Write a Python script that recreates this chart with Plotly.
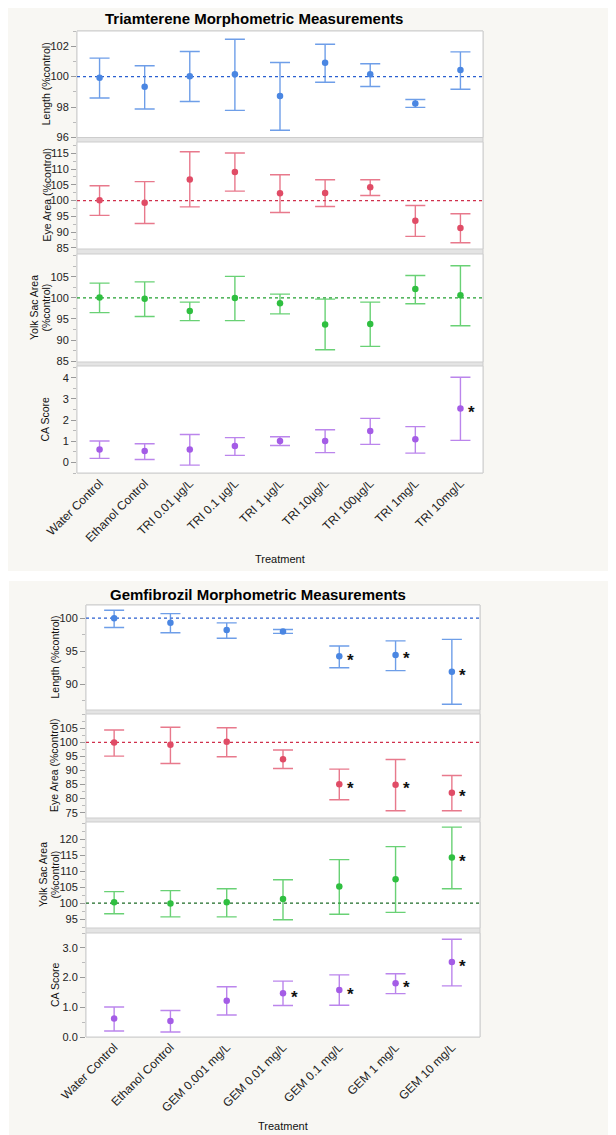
import plotly.graph_objects as go

# ---------------- data ----------------
tri_categories = ["Water Control", "Ethanol Control", "TRI 0.01 µg/L", "TRI 0.1 µg/L", "TRI 1 µg/L",
                  "TRI 10µg/L", "TRI 100µg/L", "TRI 1mg/L", "TRI 10mg/L"]
tri_length_mean = [99.93, 99.33, 100.02, 100.15, 98.72, 100.91, 100.15, 98.24, 100.43]
tri_length_upper = [101.22, 100.72, 101.65, 102.46, 100.93, 102.13, 100.85, 98.50, 101.63]
tri_length_lower = [98.60, 97.87, 98.37, 97.78, 96.48, 99.63, 99.35, 97.98, 99.17]
tri_length_sig = [0, 0, 0, 0, 0, 0, 0, 0, 0]

tri_eye_mean = [100.1, 99.3, 106.7, 109.1, 102.3, 102.4, 104.2, 93.6, 91.3]
tri_eye_upper = [104.7, 106.0, 115.5, 115.1, 108.2, 106.6, 106.6, 98.4, 95.8]
tri_eye_lower = [95.3, 92.7, 98.0, 103.0, 96.2, 98.1, 101.6, 88.6, 86.6]
tri_eye_sig = [0, 0, 0, 0, 0, 0, 0, 0, 0]

tri_yolk_mean = [100.1, 99.8, 96.9, 100.0, 98.7, 93.7, 93.8, 102.1, 100.6]
tri_yolk_upper = [103.5, 103.8, 99.0, 105.1, 100.9, 99.7, 99.0, 105.3, 107.6]
tri_yolk_lower = [96.5, 95.6, 94.6, 94.6, 96.2, 87.7, 88.5, 98.6, 93.4]
tri_yolk_sig = [0, 0, 0, 0, 0, 0, 0, 0, 0]

tri_ca_mean = [0.61, 0.54, 0.61, 0.77, 1.01, 1.01, 1.48, 1.09, 2.55]
tri_ca_upper = [1.01, 0.88, 1.32, 1.17, 1.21, 1.54, 2.08, 1.69, 4.02]
tri_ca_lower = [0.19, 0.14, -0.13, 0.33, 0.80, 0.46, 0.85, 0.44, 1.04]
tri_ca_sig = [0, 0, 0, 0, 0, 0, 0, 0, 1]

gem_categories = ["Water Control", "Ethanol Control", "GEM 0.001 mg/L", "GEM 0.01 mg/L",
                  "GEM 0.1 mg/L", "GEM 1 mg/L", "GEM 10 mg/L"]
gem_length_mean = [100.0, 99.3, 98.2, 97.98, 94.24, 94.44, 91.9]
gem_length_upper = [101.2, 100.7, 99.3, 98.3, 95.8, 96.57, 96.8]
gem_length_lower = [98.6, 97.8, 96.97, 97.7, 92.5, 92.07, 86.97]
gem_length_sig = [0, 0, 0, 0, 1, 1, 1]

gem_eye_mean = [100.0, 99.2, 100.2, 94.0, 85.1, 84.9, 82.1]
gem_eye_upper = [104.4, 105.4, 105.2, 97.3, 90.5, 93.9, 88.2]
gem_eye_lower = [95.1, 92.5, 94.9, 90.7, 79.6, 75.7, 75.7]
gem_eye_sig = [0, 0, 0, 0, 1, 1, 1]

gem_yolk_mean = [100.3, 99.9, 100.3, 101.3, 105.2, 107.5, 114.3]
gem_yolk_upper = [103.6, 103.9, 104.5, 107.3, 113.6, 117.7, 123.8]
gem_yolk_lower = [96.65, 95.7, 95.7, 94.8, 96.5, 97.1, 104.5]
gem_yolk_sig = [0, 0, 0, 0, 0, 0, 1]

gem_ca_mean = [0.62, 0.54, 1.22, 1.47, 1.58, 1.81, 2.52]
gem_ca_upper = [1.01, 0.89, 1.69, 1.88, 2.09, 2.13, 3.29]
gem_ca_lower = [0.20, 0.17, 0.74, 1.06, 1.07, 1.46, 1.72]
gem_ca_sig = [0, 0, 0, 1, 1, 1, 1]

reference_value = 100

tri_title = "Triamterene Morphometric Measurements"
gem_title = "Gemfibrozil Morphometric Measurements"
x_title = "Treatment"

tri_length_ticks = [96, 98, 100, 102]
tri_eye_ticks = [85, 90, 95, 100, 105, 110, 115]
tri_yolk_ticks = [85, 90, 95, 100, 105]
tri_ca_ticks = [0, 1, 2, 3, 4]
gem_length_ticks = [90, 95, 100]
gem_eye_ticks = [75, 80, 85, 90, 95, 100, 105]
gem_yolk_ticks = [95, 100, 105, 110, 115, 120]
gem_ca_ticks = [0, 1, 2, 3]

# ---------------- styling ----------------
# page body has an 8px margin: the figure starts at page (8, 8)
OX, OY = 8, 8
W, H = 616 - OX, 1135 - OY
FONT = "Liberation Sans, Arial, Helvetica, sans-serif"
NARROW = "Liberation Sans Narrow, Arial Narrow, Liberation Sans, sans-serif"
def px(x): return (x - OX) / W
def py(y): return 1 - (y - OY) / H

BLUE = dict(mk="#4a86e2", bar="rgba(74,134,226,0.80)", ref="#2a5fd0")
RED = dict(mk="#e04c66", bar="rgba(224,76,102,0.75)", ref="#d0304c")
GREEN = dict(mk="#2fbf40", bar="rgba(47,191,64,0.72)", ref="#22a030")
GREEN2 = dict(mk="#2fbf40", bar="rgba(47,191,64,0.72)", ref="#1d6b26")
PURPLE = dict(mk="#a45ce6", bar="rgba(164,92,230,0.75)", ref="#8a3fd0")

top_x = (77, 483)
bot_x = (86, 480)

panels = [
    dict(cats=tri_categories, m=tri_length_mean, u=tri_length_upper, l=tri_length_lower, s=tri_length_sig,
         c=BLUE, yr=[96, 103], tv=tri_length_ticks, mn=1, ref=True,
         yt=[("Length (%control)", 46)], t=31, b=137.5, xd=top_x, fmt="", last=False),
    dict(cats=tri_categories, m=tri_eye_mean, u=tri_eye_upper, l=tri_eye_lower, s=tri_eye_sig,
         c=RED, yr=[84.6, 118.6], tv=tri_eye_ticks, mn=2.5, ref=True,
         yt=[("Eye Area (%control)", 46)], t=142, b=249, xd=top_x, fmt="", last=False),
    dict(cats=tri_categories, m=tri_yolk_mean, u=tri_yolk_upper, l=tri_yolk_lower, s=tri_yolk_sig,
         c=GREEN, yr=[84.8, 110.4], tv=tri_yolk_ticks, mn=2.5, ref=True,
         yt=[("Yolk Sac Area", 34), ("(%control)", 45.5)], t=254, b=362, xd=top_x, fmt="", last=False),
    dict(cats=tri_categories, m=tri_ca_mean, u=tri_ca_upper, l=tri_ca_lower, s=tri_ca_sig,
         c=PURPLE, yr=[-0.5, 4.55], tv=tri_ca_ticks, mn=0.5, ref=False,
         yt=[("CA Score", 44)], t=366, b=473, xd=top_x, fmt="", last=True),
    dict(cats=gem_categories, m=gem_length_mean, u=gem_length_upper, l=gem_length_lower, s=gem_length_sig,
         c=BLUE, yr=[86.1, 102], tv=gem_length_ticks, mn=2.5, ref=True,
         yt=[("Length (%control)", 54)], t=605, b=710, xd=bot_x, fmt="", last=False),
    dict(cats=gem_categories, m=gem_eye_mean, u=gem_eye_upper, l=gem_eye_lower, s=gem_eye_sig,
         c=RED, yr=[73.1, 110.1], tv=gem_eye_ticks, mn=2.5, ref=True,
         yt=[("Eye Area (%control)", 54)], t=714, b=818, xd=bot_x, fmt="", last=False),
    dict(cats=gem_categories, m=gem_yolk_mean, u=gem_yolk_upper, l=gem_yolk_lower, s=gem_yolk_sig,
         c=GREEN2, yr=[92.2, 125.4], tv=gem_yolk_ticks, mn=2.5, ref=True,
         yt=[("Yolk Sac Area", 43), ("(%control)", 54.5)], t=822, b=928, xd=bot_x, fmt="", last=False),
    dict(cats=gem_categories, m=gem_ca_mean, u=gem_ca_upper, l=gem_ca_lower, s=gem_ca_sig,
         c=PURPLE, yr=[0, 3.5], tv=gem_ca_ticks, mn=0.5, ref=False,
         yt=[("CA Score", 55)], t=933, b=1037, xd=bot_x, fmt=".1f", last=True),
]

fig = go.Figure()
shapes = []
annotations = []
layout = {}

CARD = "#f8f7f3"
shapes.append(dict(type="rect", xref="paper", yref="paper", x0=px(8), x1=1, y0=py(571), y1=py(8),
                   fillcolor=CARD, line=dict(width=0), layer="below"))
shapes.append(dict(type="rect", xref="paper", yref="paper", x0=px(9), x1=1, y0=0, y1=py(581),
                   fillcolor=CARD, line=dict(width=0), layer="below"))
for (x0, x1), t, b in [(top_x, 31, 473), (bot_x, 605, 1037)]:
    shapes.append(dict(type="rect", xref="paper", yref="paper", x0=px(x0), x1=px(x1), y0=py(b), y1=py(t),
                       fillcolor="#e4e4e4", line=dict(color="#cdcdcd", width=1), layer="below"))

for i, p in enumerate(panels, start=1):
    key = "" if i == 1 else str(i)
    xa = "x" + key
    ya = "y" + key
    n = len(p["cats"])
    shapes.append(dict(type="rect", xref="paper", yref="paper", x0=px(p["xd"][0]), x1=px(p["xd"][1]),
                       y0=py(p["b"]), y1=py(p["t"]), fillcolor="white",
                       line=dict(color="#cdcdcd", width=1), layer="below"))
    if p["ref"]:
        shapes.append(dict(type="line", xref=f"{xa} domain", yref=ya, x0=0, x1=1,
                           y0=reference_value, y1=reference_value,
                           line=dict(color=p["c"]["ref"], width=1.3, dash="dot"), layer="below"))
    plus = [u - m for u, m in zip(p["u"], p["m"])]
    minus = [m - l for m, l in zip(p["m"], p["l"])]
    fig.add_trace(go.Scatter(
        x=p["cats"], y=p["m"], mode="markers", xaxis=xa, yaxis=ya,
        marker=dict(color=p["c"]["mk"], size=6.5),
        error_y=dict(type="data", symmetric=False, array=plus, arrayminus=minus,
                     color=p["c"]["bar"], thickness=1.4, width=10),
        hoverinfo="skip", showlegend=False, cliponaxis=False))
    layout[f"xaxis{key}"] = dict(
        domain=[px(p["xd"][0]), px(p["xd"][1])], anchor=ya, type="category", automargin=False,
        categoryorder="array", categoryarray=p["cats"], range=[-0.5, n - 0.5],
        showticklabels=p["last"], tickangle=-45, ticks="", showline=False, showgrid=False,
        zeroline=False, tickfont=dict(size=12, color="#222", family=NARROW), fixedrange=True)
    layout[f"yaxis{key}"] = dict(
        domain=[py(p["b"]), py(p["t"])], anchor=xa, range=p["yr"], tickmode="array", automargin=False,
        tickvals=p["tv"], tickformat=p["fmt"], ticks="outside", ticklen=5, tickcolor="#9a9a9a",
        minor=dict(ticks="outside", ticklen=3, tickcolor="#bbbbbb", dtick=p["mn"], tick0=0),
        showgrid=False, zeroline=False, showline=False,
        tickfont=dict(size=11, color="#222", family=NARROW), fixedrange=True)
    for text, tx in p["yt"]:
        annotations.append(dict(xref="paper", yref="paper", x=px(tx), y=py((p["t"] + p["b"]) / 2),
                                text=text, textangle=-90, showarrow=False,
                                font=dict(size=10.5, color="#111", family=FONT),
                                xanchor="center", yanchor="middle"))
    for cat, m, s in zip(p["cats"], p["m"], p["s"]):
        if s:
            annotations.append(dict(xref=xa, yref=ya, x=cat, y=m, text="<b>*</b>", showarrow=False,
                                    xshift=11, yshift=-4, font=dict(size=17, color="#111", family=FONT),
                                    xanchor="center", yanchor="middle"))

annotations += [
    dict(xref="paper", yref="paper", x=px(254), y=py(19), text=f"<b>{tri_title}</b>", showarrow=False,
         font=dict(size=15, color="#000", family=FONT), xanchor="center", yanchor="middle"),
    dict(xref="paper", yref="paper", x=px(258), y=py(594), text=f"<b>{gem_title}</b>", showarrow=False,
         font=dict(size=15, color="#000", family=FONT), xanchor="center", yanchor="middle"),
    dict(xref="paper", yref="paper", x=px(280), y=py(559), text=x_title, showarrow=False,
         font=dict(size=11, color="#111", family=NARROW), xanchor="center", yanchor="middle"),
    dict(xref="paper", yref="paper", x=px(283), y=py(1126), text=x_title, showarrow=False,
         font=dict(size=11, color="#111", family=NARROW), xanchor="center", yanchor="middle"),
]

fig.update_layout(
    width=W, height=H, margin=dict(l=0, r=0, t=0, b=0, autoexpand=False),
    paper_bgcolor="white", plot_bgcolor="rgba(0,0,0,0)",
    font=dict(family=FONT, size=11, color="#222"),
    shapes=shapes, annotations=annotations, showlegend=False, **layout)

fig.write_html("out.html")
